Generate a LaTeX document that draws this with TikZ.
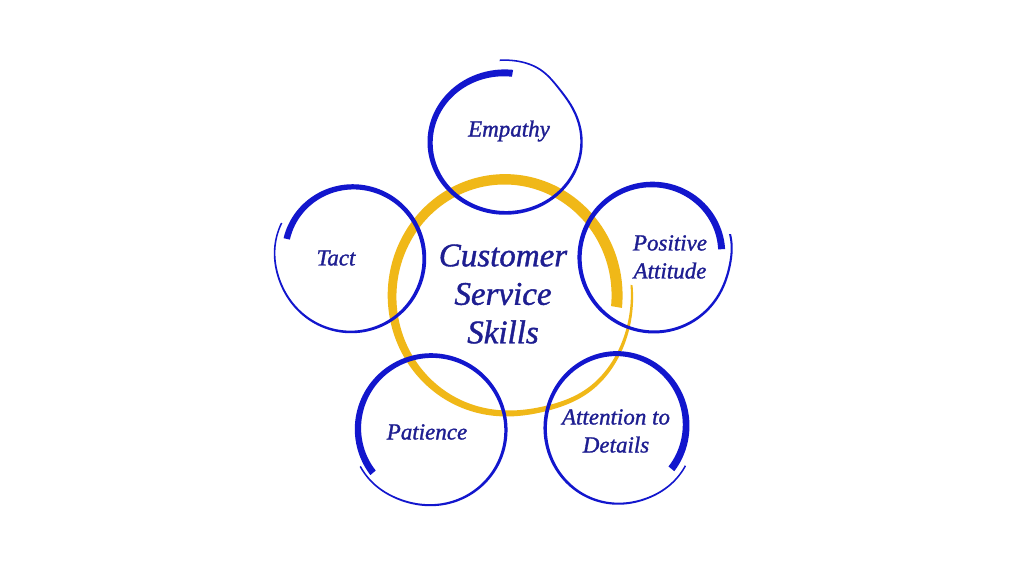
\documentclass[tikz,border=0pt]{standalone}
\usepackage{fontspec}
\setmainfont{Liberation Serif}
\newfontfamily\lblfont[FakeBold=1.2]{Liberation Serif}
\definecolor{ringblue}{RGB}{18,22,205}
\definecolor{ringyellow}{RGB}{240,184,24}
\definecolor{textblue}{RGB}{30,30,145}
\newcommand\ringpath[1]{%
  \fill[#1] plot[domain=0.001:1,samples=300,variable=\t]
    ({cx+(rx+dd(\t)+ww(\t)/2)*cos(astart+aspan*\t)},{cy-(ry+dd(\t)+ww(\t)/2)*sin(astart+aspan*\t)})
  -- plot[domain=1:0.001,samples=300,variable=\t]
    ({cx+(rx+dd(\t)-ww(\t)/2)*cos(astart+aspan*\t)},{cy-(ry+dd(\t)-ww(\t)/2)*sin(astart+aspan*\t)})
  -- cycle;}
\begin{document}
\begin{tikzpicture}[x=1pt,y=-1pt,
  declare function={
    dd(\t)=dra*pow(1-\t,4)+drb/(1+exp(min(9,-(\t-tz)/ts)));
    ww(\t)=wb+(wa-wb)*pow(max(1-pow(\t,wq),0.0005),wp);
  },
  lbl/.style={text=textblue,font=\lblfont\fontsize{23}{28}\selectfont\itshape,align=center,inner sep=0pt},
  ttl/.style={text=textblue,font=\lblfont\fontsize{33}{38.5}\selectfont\itshape,align=center,inner sep=0pt}]
\useasboundingbox[fill=white] (0,0) rectangle (1024,576);
% yellow centre ring
\begin{scope}[declare function={cx=505;cy=296;rx=113;ry=117;astart=-6;aspan=371;dra=-1;drb=14;tz=0.83;ts=0.025;wa=11;wb=2;wq=2;wp=1;}]
\ringpath{ringyellow}
\end{scope}
% Empathy
\begin{scope}[declare function={cx=505.5;cy=142;rx=76;ry=71;astart=84;aspan=370;dra=-2;drb=11;tz=0.9;ts=0.02;wa=7;wb=1.5;wq=1;wp=1.3;}]
\ringpath{ringblue}
\end{scope}
% Tact
\begin{scope}[declare function={cx=351;cy=258;rx=74;ry=74;astart=164;aspan=-371;dra=-7;drb=4;tz=0.92;ts=0.03;wa=6.5;wb=1.5;wq=1;wp=1.3;}]
\ringpath{ringblue}
\end{scope}
% Positive Attitude
\begin{scope}[declare function={cx=654;cy=257;rx=75;ry=75;astart=6;aspan=371;dra=-7;drb=5;tz=0.96;ts=0.02;wa=7;wb=2;wq=1;wp=1.3;}]
\ringpath{ringblue}
\end{scope}
% Patience
\begin{scope}[declare function={cx=431;cy=430;rx=75;ry=75;astart=217;aspan=-370;dra=-3;drb=5;tz=0.93;ts=0.03;wa=7;wb=1.5;wq=1;wp=1.3;}]
\ringpath{ringblue}
\end{scope}
% Attention to Details
\begin{scope}[declare function={cx=617.5;cy=428;rx=72.5;ry=75.5;astart=-36.5;aspan=368.5;dra=-6;drb=5;tz=0.93;ts=0.03;wa=7.5;wb=1.5;wq=1;wp=1.3;}]
\ringpath{ringblue}
\end{scope}
% texts
\node[ttl] (css) at (503,294) {Customer\\Service\\Skills};
\node[lbl] (emp) at (509,131) {Empathy};
\node[lbl] (tact) at (336,258) {Tact};
\node[lbl] (pos) at (670,257) {Positive\\Attitude};
\node[lbl] (pat) at (427,432) {Patience};
\node[lbl] (att) at (616,431) {Attention to\\Details};
\end{tikzpicture}
\end{document}
